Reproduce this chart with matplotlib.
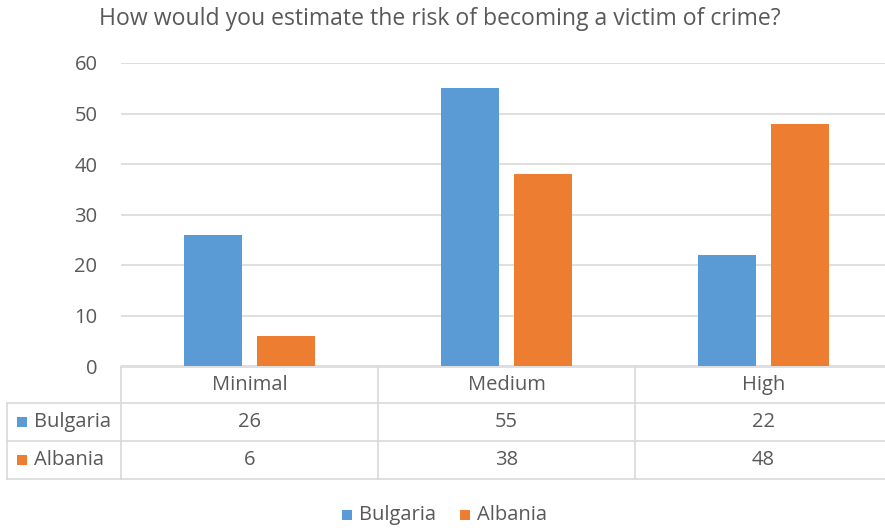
import matplotlib
matplotlib.use("Agg")
import matplotlib.pyplot as plt
from matplotlib.patches import Rectangle

title = "How would you estimate the risk of becoming a victim of crime?"
categories = ["Minimal", "Medium", "High"]
series_names = ["Bulgaria", "Albania"]
bulgaria = [26, 55, 22]
albania = [6, 38, 48]
yticks = [0, 10, 20, 30, 40, 50, 60]

colors = ["#5B9BD5", "#ED7D31"]
text_c = "#595959"
grid_c = "#D9D9D9"
plt.rcParams["font.family"] = ["Open Sans", "DejaVu Sans"]
fs = 14.5

W, H = 885, 528
fig = plt.figure(figsize=(W / 100, H / 100), dpi=100)

# plot area in pixel coordinates (right edge runs past the canvas)
L, R, T, B = 121, 892, 63, 366
ax = fig.add_axes([L / W, 1 - B / H, (R - L) / W, (B - T) / H])
ax.set_xlim(-0.5, len(categories) - 0.5)
ax.set_ylim(0, 60)
ax.set_yticks(yticks)
ax.set_xticks([])
for s in ax.spines.values():
    s.set_visible(False)
ax.yaxis.grid(True, color=grid_c, linewidth=1.2)
ax.set_axisbelow(True)
ax.tick_params(axis="y", length=0, pad=17, labelsize=fs, labelcolor=text_c)

width = 0.222
offset = 0.142
xs = list(range(len(categories)))
ax.bar([x - offset for x in xs], bulgaria, width, color=colors[0], zorder=3)
ax.bar([x + offset for x in xs], albania, width, color=colors[1], zorder=3)

fig.text(440 / W, 1 - 19 / H, title, ha="center", va="center", fontsize=16.6, color=text_c)

# data table overlay in pixel coordinates
tab = fig.add_axes([0, 0, 1, 1])
tab.set_xlim(0, W)
tab.set_ylim(H, 0)
tab.axis("off")
tab.patch.set_alpha(0)

rows_y = [367, 403, 441, 479]
left = 7
cat_w = (R - L) / len(categories)
lw = 1.2
# horizontal rules
tab.plot([L, R], [rows_y[0], rows_y[0]], color=grid_c, lw=lw)
for y in rows_y[1:]:
    tab.plot([left, R], [y, y], color=grid_c, lw=lw)
# vertical rules
tab.plot([left, left], [rows_y[1], rows_y[3]], color=grid_c, lw=lw)
for i in range(len(categories) + 1):
    x = L + i * cat_w
    tab.plot([x, x], [rows_y[0], rows_y[3]], color=grid_c, lw=lw)

for i, c in enumerate(categories):
    cx = L + (i + 0.5) * cat_w
    tab.text(cx, (rows_y[0] + rows_y[1]) / 2, c, ha="center", va="center",
             fontsize=fs, color=text_c)
    for r, vals in enumerate([bulgaria, albania]):
        tab.text(cx, (rows_y[r + 1] + rows_y[r + 2]) / 2, str(vals[i]),
                 ha="center", va="center", fontsize=fs, color=text_c)

for r, name in enumerate(series_names):
    cy = (rows_y[r + 1] + rows_y[r + 2]) / 2
    tab.add_patch(Rectangle((17, cy - 5), 10, 10, color=colors[r], lw=0))
    tab.text(34, cy, name, ha="left", va="center", fontsize=fs, color=text_c)

# legend
leg_y = 515
for name, col, x0 in zip(series_names, colors, [342, 460]):
    tab.add_patch(Rectangle((x0, leg_y - 5), 10, 10, color=col, lw=0))
    tab.text(x0 + 17, leg_y, name, ha="left", va="center", fontsize=fs, color=text_c)

fig.savefig("out.png", dpi=100, facecolor="white")
